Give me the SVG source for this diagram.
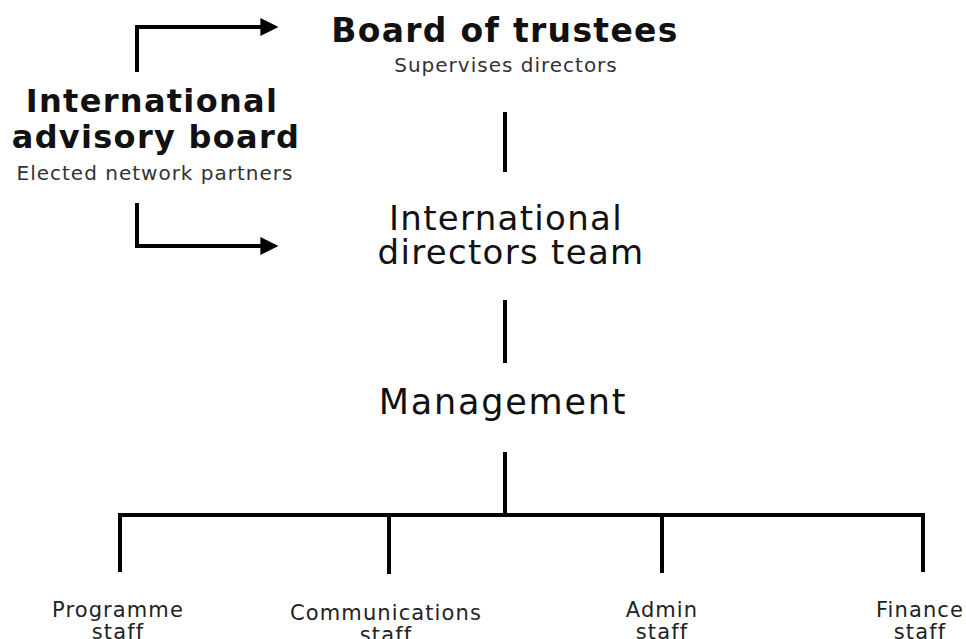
<svg xmlns="http://www.w3.org/2000/svg" width="966" height="639" viewBox="0 0 966 639">
<style>
text{font-family:"DejaVu Sans","Noto Sans",sans-serif;fill:#111;text-anchor:middle}
.b{font-weight:bold;font-size:32px;letter-spacing:1.3px}
.r{font-size:34px;letter-spacing:1.3px}
.s{font-size:20px;fill:#333;letter-spacing:1px}
.l{font-size:21px;fill:#222;letter-spacing:1.1px}
.c{stroke:#000;stroke-width:4;fill:none}
</style>
<defs>
<marker id="ah" viewBox="0 0 10 10" refX="2" refY="5" markerWidth="4.5" markerHeight="5.5" orient="auto" markerUnits="strokeWidth">
<path d="M0,0 L10,5 L0,10 z" fill="#000"/>
</marker>
</defs>
<rect width="966" height="639" fill="#fff"/>
<g id="connectors">
<path class="c" d="M137,72 V27 H264" marker-end="url(#ah)"/>
<path class="c" d="M137,203 V246 H264" marker-end="url(#ah)"/>
<path class="c" d="M505,112 V172"/>
<path class="c" d="M505,300 V363"/>
<path class="c" d="M505,452 V515"/>
<path class="c" d="M120,572 V515 H923 V572"/>
<path class="c" d="M389,515 V574"/>
<path class="c" d="M662,515 V573"/>
</g>
<g id="advisory">
<text class="b" x="152" y="112">International</text>
<text class="b" x="156" y="148">advisory board</text>
<text class="s" x="155" y="180">Elected network partners</text>
</g>
<g id="trustees">
<text class="b" x="505" y="42" style="font-size:33px">Board of trustees</text>
<text class="s" x="506" y="72">Supervises directors</text>
</g>
<g id="directors">
<text class="r" x="506" y="230">International</text>
<text class="r" x="511" y="264">directors team</text>
</g>
<g id="management">
<text class="r" x="503" y="414" style="font-size:35px;letter-spacing:1.8px">Management</text>
</g>
<g id="programme"><text class="l" x="118" y="617">Programme</text><text class="l" x="118" y="639">staff</text></g>
<g id="communications"><text class="l" x="386" y="620">Communications</text><text class="l" x="386" y="642">staff</text></g>
<g id="admin"><text class="l" x="662" y="617">Admin</text><text class="l" x="662" y="639">staff</text></g>
<g id="finance"><text class="l" x="920" y="617">Finance</text><text class="l" x="920" y="639">staff</text></g>
</svg>
